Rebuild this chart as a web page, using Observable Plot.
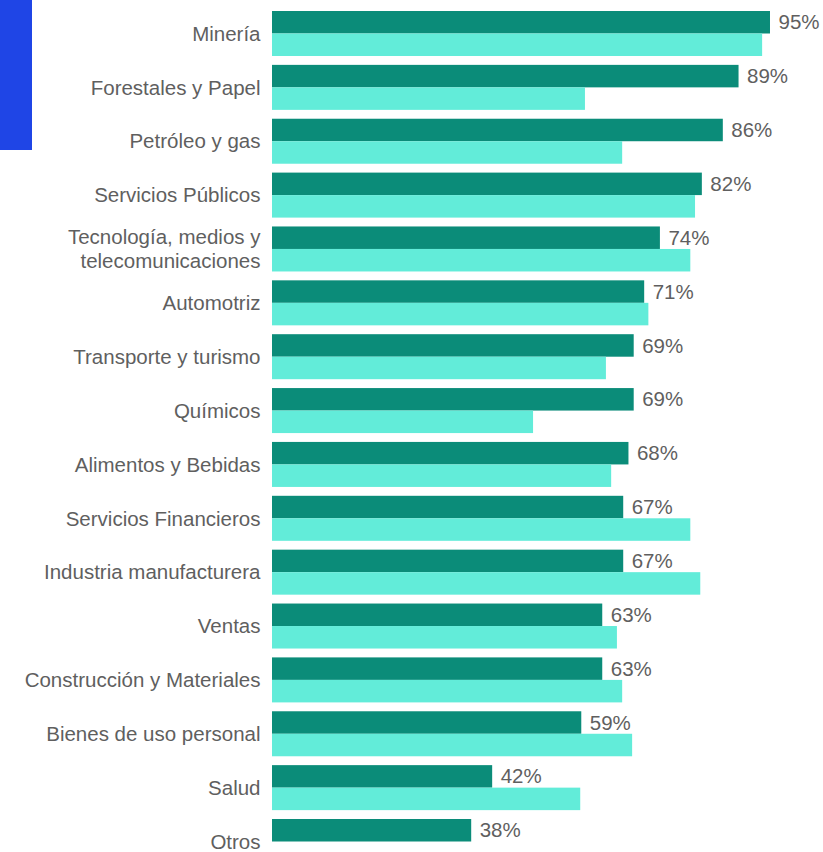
<!DOCTYPE html>
<html>
<head>
<meta charset="utf-8">
<script src="https://cdn.jsdelivr.net/npm/d3@7"></script>
<script src="https://cdn.jsdelivr.net/npm/@observablehq/plot@0.6"></script>
<style>
  html, body { margin: 0; padding: 0; background: #fff; overflow: hidden; }
  #wrap { position: relative; width: 823px; height: 852px; }
  #accent { position: absolute; left: 0; top: 0; width: 32px; height: 150px; background: #1f45e6; }
  #chart { position: absolute; left: 0; top: 0; }
</style>
</head>
<body>
<div id="wrap"><div id="accent"></div><div id="chart"></div></div>
<script>
const categories = [
  "Minería", "Forestales y Papel", "Petróleo y gas", "Servicios Públicos",
  "Tecnología, medios y\ntelecomunicaciones", "Automotriz", "Transporte y turismo",
  "Químicos", "Alimentos y Bebidas", "Servicios Financieros", "Industria manufacturera",
  "Ventas", "Construcción y Materiales", "Bienes de uso personal", "Salud", "Otros"
];
const seriesA = [95, 89, 86, 82, 74, 71, 69, 69, 68, 67, 67, 63, 63, 59, 42, 38];
const seriesB = [93.5, 59.7, 66.8, 80.7, 79.8, 71.8, 63.7, 49.8, 64.7, 79.8, 81.7, 65.8, 66.8, 68.7, 58.8, null];

const colorA = "#0b8c79";
const colorB = "#62ecd9";
const textColor = "#5f5f5f";

const dataA = categories.map((c, i) => ({category: c, value: seriesA[i]}));
const dataB = categories.map((c, i) => ({category: c, value: seriesB[i]})).filter(d => d.value != null);

const half = 22.5;

const chart = Plot.plot({
  width: 823,
  height: 852,
  marginLeft: 272,
  marginRight: 0,
  marginTop: 0,
  marginBottom: 0,
  style: {fontFamily: "'Liberation Sans', Arial, sans-serif", background: "transparent"},
  x: {domain: [0, 100], range: [272, 796.2], axis: null},
  y: {type: "band", domain: categories, range: [11, 864], paddingInner: 8.87 / 53.87, paddingOuter: 0, round: false, axis: null},
  marks: [
    Plot.barX(dataA, {x: "value", y: "category", fill: colorA, insetBottom: half}),
    Plot.barX(dataB, {x: "value", y: "category", fill: colorB, insetTop: half}),
    Plot.text(dataA, {
      x: "value", y: "category", text: d => d.value + "%",
      dx: 8, dy: -11.25, textAnchor: "start", fill: textColor, fontSize: 20.5
    }),
    Plot.text(categories, {
      x: () => 0, y: d => d, text: d => d,
      dx: -12, dy: -1, textAnchor: "end", fill: textColor, fontSize: 20.5, lineHeight: 1.18
    })
  ]
});
document.getElementById("chart").appendChild(chart);
</script>
</body>
</html>
